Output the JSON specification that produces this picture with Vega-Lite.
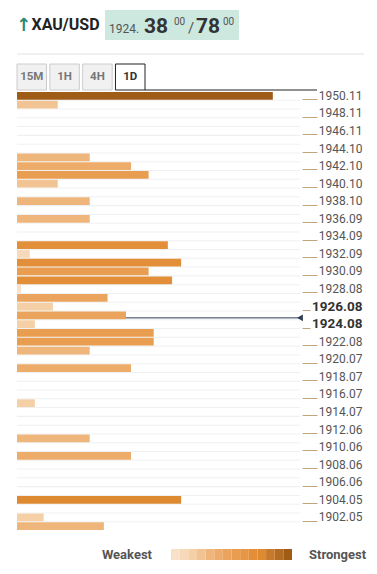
{
  "$schema": "https://vega.github.io/schema/vega-lite/v6.json",
  "background": "white",
  "padding": {"left": 15, "top": 10, "right": 0, "bottom": 0},
  "config": {"view": {"stroke": null}, "font": "Roboto"},
  "datasets": {
    "levels": [
      {"level": "1950.11", "score": 90.4, "strength": 14},
      {"level": "1949.11", "score": 14.4, "strength": 4},
      {"level": "1948.11", "score": 0},
      {"level": "1947.11", "score": 0},
      {"level": "1946.11", "score": 0},
      {"level": "1945.10", "score": 0},
      {"level": "1944.10", "score": 0},
      {"level": "1943.10", "score": 25.7, "strength": 5},
      {"level": "1942.10", "score": 40.3, "strength": 6},
      {"level": "1941.10", "score": 46.5, "strength": 8},
      {"level": "1940.10", "score": 14.4, "strength": 4},
      {"level": "1939.10", "score": 0},
      {"level": "1938.10", "score": 25.7, "strength": 5},
      {"level": "1937.10", "score": 0},
      {"level": "1936.09", "score": 25.7, "strength": 5},
      {"level": "1935.09", "score": 0},
      {"level": "1934.09", "score": 0},
      {"level": "1933.09", "score": 53.3, "strength": 10},
      {"level": "1932.09", "score": 4.5, "strength": 2},
      {"level": "1931.09", "score": 58.0, "strength": 10},
      {"level": "1930.09", "score": 46.5, "strength": 8},
      {"level": "1929.08", "score": 54.8, "strength": 10},
      {"level": "1928.08", "score": 1.4, "strength": 1},
      {"level": "1927.08", "score": 32.0, "strength": 7},
      {"level": "1926.08", "score": 12.7, "strength": 3},
      {"level": "1925.08", "score": 38.5, "strength": 7, "current": 1924.38},
      {"level": "1924.08", "score": 6.3, "strength": 3},
      {"level": "1923.08", "score": 48.3, "strength": 8},
      {"level": "1922.08", "score": 48.3, "strength": 8},
      {"level": "1921.07", "score": 25.7, "strength": 5},
      {"level": "1920.07", "score": 0},
      {"level": "1919.07", "score": 40.3, "strength": 6},
      {"level": "1918.07", "score": 0},
      {"level": "1917.07", "score": 0},
      {"level": "1916.07", "score": 0},
      {"level": "1915.07", "score": 6.3, "strength": 3},
      {"level": "1914.07", "score": 0},
      {"level": "1913.06", "score": 0},
      {"level": "1912.06", "score": 0},
      {"level": "1911.06", "score": 25.7, "strength": 5},
      {"level": "1910.06", "score": 0},
      {"level": "1909.06", "score": 40.3, "strength": 6},
      {"level": "1908.06", "score": 0},
      {"level": "1907.06", "score": 0},
      {"level": "1906.06", "score": 0},
      {"level": "1905.05", "score": 0},
      {"level": "1904.05", "score": 58.0, "strength": 11},
      {"level": "1903.05", "score": 0},
      {"level": "1902.05", "score": 9.4, "strength": 3},
      {"level": "1901.05", "score": 30.7, "strength": 5}
    ],
    "tabs": [
      {"tab": "15M", "active": false},
      {"tab": "1H", "active": false},
      {"tab": "4H", "active": false},
      {"tab": "1D", "active": true}
    ],
    "steps": [
      {"strength": 1}, {"strength": 2}, {"strength": 3}, {"strength": 4}, {"strength": 5},
      {"strength": 6}, {"strength": 7}, {"strength": 8}, {"strength": 9}, {"strength": 10},
      {"strength": 11}, {"strength": 12}, {"strength": 13}, {"strength": 14}
    ],
    "quote": [{"pair": "XAU/USD", "bid": 1924.38, "ask": 1924.78}]
  },
  "spacing": 18,
  "vconcat": [
    {
      "spacing": -2,
      "vconcat": [
        {
          "spacing": 8,
          "vconcat": [
            {
              "spacing": 13,
              "vconcat": [
                {
                  "spacing": 5,
                  "hconcat": [
                    {
                      "width": 83,
                      "height": 30,
                      "data": {"name": "quote"},
                      "layer": [
                        {"mark": {"type": "text", "text": "↑", "font": "DejaVu Sans", "fontSize": 18, "fontWeight": "bold", "color": "#2a8a74", "dx": -35, "dy": 1, "baseline": "middle"}, "encoding": {}},
                        {"mark": {"type": "text", "fontSize": 16, "fontWeight": "bold", "color": "#222222", "dx": 7, "baseline": "middle"}, "encoding": {"text": {"field": "pair"}}}
                      ]
                    },
                    {
                      "width": 134,
                      "height": 30,
                      "view": {"fill": "#cce8df", "stroke": null},
                      "data": {"name": "quote"},
                      "layer": [
                        {"mark": {"type": "text", "text": "1924.", "align": "left", "baseline": "alphabetic", "dx": -63, "dy": 8, "fontSize": 12, "color": "#555555"}, "encoding": {}},
                        {"mark": {"type": "text", "text": "38", "align": "left", "baseline": "alphabetic", "dx": -28, "dy": 8, "fontSize": 21, "fontWeight": "bold", "color": "#333333"}, "encoding": {}},
                        {"mark": {"type": "text", "text": "00", "align": "left", "baseline": "alphabetic", "dx": 2, "dy": 0, "fontSize": 10, "color": "#555555"}, "encoding": {}},
                        {"mark": {"type": "text", "text": "/", "align": "left", "baseline": "alphabetic", "dx": 16, "dy": 8, "fontSize": 15, "color": "#555555"}, "encoding": {}},
                        {"mark": {"type": "text", "text": "78", "align": "left", "baseline": "alphabetic", "dx": 24, "dy": 8, "fontSize": 21, "fontWeight": "bold", "color": "#333333"}, "encoding": {}},
                        {"mark": {"type": "text", "text": "00", "align": "left", "baseline": "alphabetic", "dx": 51, "dy": 0, "fontSize": 10, "color": "#555555"}, "encoding": {}}
                      ]
                    }
                  ]
                },
                {
                  "width": 347,
                  "height": 1,
                  "data": {"name": "quote"},
                  "mark": {"type": "rule", "color": "#e3e3e3", "strokeWidth": 1},
                  "encoding": {"y": {"value": "height"}}
                }
              ]
            },
            {
              "width": 300,
              "height": 26,
              "data": {"name": "tabs"},
              "layer": [
                {
                  "mark": {"type": "rect", "strokeWidth": 1},
                  "encoding": {
                    "x": {"field": "tab", "type": "nominal", "sort": null, "axis": null, "scale": {"range": [0, 128], "paddingInner": 0.1, "paddingOuter": 0}},
                    "fill": {"condition": {"test": "datum.active", "value": "#ffffff"}, "value": "#f1f1f1"},
                    "stroke": {"condition": {"test": "datum.active", "value": "#222222"}, "value": "#cccccc"}
                  }
                },
                {
                  "mark": {"type": "text", "fontSize": 11.5, "fontWeight": "bold", "baseline": "middle"},
                  "encoding": {
                    "x": {"field": "tab", "type": "nominal", "sort": null},
                    "text": {"field": "tab"},
                    "color": {"condition": {"test": "datum.active", "value": "#333333"}, "value": "#777777"}
                  }
                },
                {
                  "transform": [{"filter": "datum.active"}],
                  "mark": {"type": "rule", "color": "#222222", "strokeWidth": 1},
                  "encoding": {
                    "x": {"field": "tab", "type": "nominal", "sort": null, "bandPosition": 1},
                    "x2": {"value": "width"},
                    "y": {"value": "height"}
                  }
                }
              ]
            }
          ]
        },
        {
          "width": 283,
          "height": 438,
          "view": {"fill": "#eef0f3", "stroke": null},
          "data": {"name": "levels"},
          "layer": [
            {
              "mark": {"type": "rect", "fill": "#ffffff"},
              "encoding": {
                "y": {
                  "field": "level", "type": "nominal", "sort": null,
                  "scale": {"paddingInner": 0.12, "paddingOuter": 0},
                  "axis": {
                    "orient": "right",
                    "title": null,
                    "domain": false,
                    "grid": false,
                    "offset": 2,
                    "bandPosition": 1,
                    "values": ["1950.11","1948.11","1946.11","1944.10","1942.10","1940.10","1938.10","1936.09","1934.09","1932.09","1930.09","1928.08","1926.08","1924.08","1922.08","1920.07","1918.07","1916.07","1914.07","1912.06","1910.06","1908.06","1906.06","1904.05","1902.05"],
                    "tickColor": "#c4a57e",
                    "tickWidth": 1,
                    "tickSize": {"condition": {"test": "datum.value == '1926.08' || datum.value == '1924.08'", "value": 8}, "value": 15},
                    "labelPadding": {"condition": {"test": "datum.value == '1926.08' || datum.value == '1924.08'", "value": 52}, "value": 45},
                    "labelAlign": "right",
                    "labelBaseline": "alphabetic",
                    "labelOffset": 4,
                    "labelFont": "Roboto",
                    "labelFontSize": {"condition": {"test": "datum.value == '1926.08' || datum.value == '1924.08'", "value": 13.5}, "value": 12},
                    "labelFontWeight": {"condition": {"test": "datum.value == '1926.08' || datum.value == '1924.08'", "value": "bold"}, "value": "normal"},
                    "labelColor": {"condition": {"test": "datum.value == '1926.08' || datum.value == '1924.08'", "value": "#333333"}, "value": "#555555"}
                  }
                }
              }
            },
            {
              "transform": [{"filter": "isValid(datum.current)"}],
              "mark": {"type": "rule", "color": "#2c3e50", "strokeWidth": 1},
              "encoding": {
                "y": {"field": "level", "type": "nominal", "sort": null, "bandPosition": 0.82}
              }
            },
            {
              "transform": [{"filter": "datum.score > 0"}],
              "mark": {"type": "rect"},
              "encoding": {
                "y": {"field": "level", "type": "nominal", "sort": null},
                "x": {"field": "score", "type": "quantitative", "scale": {"domain": [0, 100]}, "axis": null},
                "color": {
                  "field": "strength", "type": "ordinal", "legend": null,
                  "scale": {
                    "domain": [1,2,3,4,5,6,7,8,9,10,11,12,13,14],
                    "range": ["#f8e1c9","#f7d8b8","#f5cfa6","#f2c393","#efb67c","#edac6a","#eba45d","#e89d50","#e69645","#e38f39","#de8a30","#c9792a","#b46b22","#9e5c17"]
                  }
                }
              }
            },
            {
              "transform": [{"filter": "isValid(datum.current)"}],
              "mark": {"type": "point", "shape": "triangle-left", "filled": true, "size": 45, "color": "#2c3e50", "opacity": 1},
              "encoding": {
                "y": {"field": "level", "type": "nominal", "sort": null, "bandPosition": 0.82},
                "x": {"value": "width"}
              }
            }
          ]
        }
      ]
    },
    {
      "width": 275,
      "height": 11,
      "data": {"name": "steps"},
      "layer": [
        {
          "mark": {"type": "rect"},
          "encoding": {
            "x": {"field": "strength", "type": "ordinal", "axis": null, "scale": {"range": [154, 275], "paddingInner": 0, "paddingOuter": 0}},
            "color": {
              "field": "strength", "type": "ordinal", "legend": null,
              "scale": {
                "domain": [1,2,3,4,5,6,7,8,9,10,11,12,13,14],
                "range": ["#f8e1c9","#f7d8b8","#f5cfa6","#f2c393","#efb67c","#edac6a","#eba45d","#e89d50","#e69645","#e38f39","#de8a30","#c9792a","#b46b22","#9e5c17"]
              }
            }
          }
        },
        {
          "transform": [{"filter": "datum.strength == 1"}],
          "mark": {"type": "text", "text": "Weakest", "align": "right", "baseline": "middle", "dx": -19, "fontSize": 13, "fontWeight": "bold", "color": "#555555"},
          "encoding": {"x": {"field": "strength", "type": "ordinal", "bandPosition": 0}}
        },
        {
          "transform": [{"filter": "datum.strength == 14"}],
          "mark": {"type": "text", "text": "Strongest", "align": "left", "baseline": "middle", "dx": 17, "fontSize": 13, "fontWeight": "bold", "color": "#555555"},
          "encoding": {"x": {"field": "strength", "type": "ordinal", "bandPosition": 1}}
        }
      ]
    }
  ]
}
